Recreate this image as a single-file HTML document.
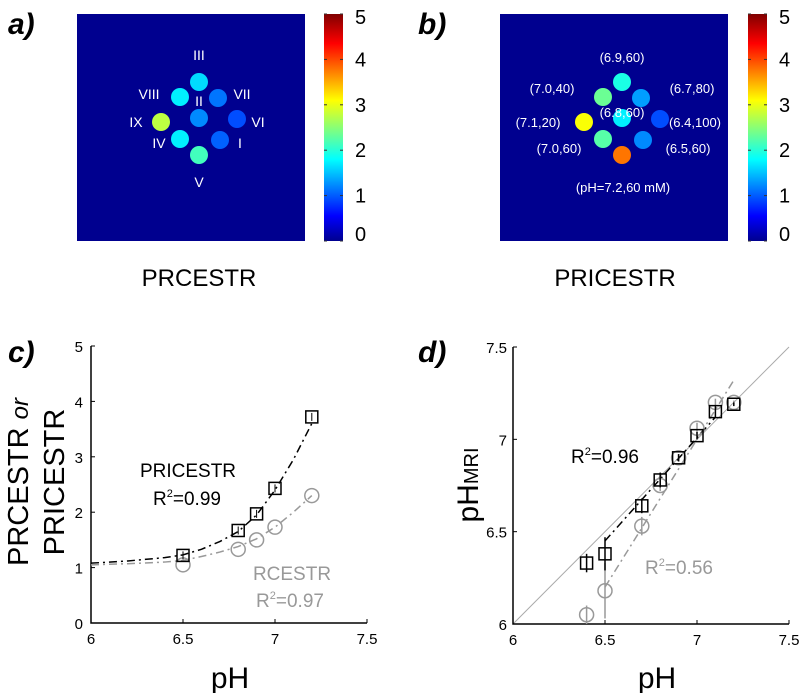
<!DOCTYPE html>
<html><head><meta charset="utf-8"><style>
html,body{margin:0;padding:0;background:#fff;width:800px;height:693px;overflow:hidden}
svg{display:block;font-family:"Liberation Sans","DejaVu Sans",sans-serif}
</style></head><body>
<svg id="fig" width="800" height="693" viewBox="0 0 800 693">
<defs>
<linearGradient id="jet" x1="0" y1="1" x2="0" y2="0">
<stop offset="0" stop-color="#00008f"/><stop offset="0.11" stop-color="#0000ff"/>
<stop offset="0.36" stop-color="#00ffff"/><stop offset="0.62" stop-color="#ffff00"/>
<stop offset="0.87" stop-color="#ff0000"/><stop offset="1" stop-color="#800000"/>
</linearGradient>
</defs>
<!-- panel a -->
<g>
<text x="8" y="34" font-size="30" font-weight="bold" font-style="italic">a)</text>
<rect x="77" y="14" width="228" height="227" fill="#00008f"/>
<rect x="324" y="14" width="19" height="227" fill="url(#jet)"/>
<g id="spotsA"></g>
<g id="cbA"></g>
<text x="199" y="286" font-size="24" text-anchor="middle">PRCESTR</text>
</g>
<!-- panel b -->
<g>
<text x="418" y="34" font-size="30" font-weight="bold" font-style="italic">b)</text>
<rect x="500" y="14" width="228" height="227" fill="#00008f"/>
<rect x="748" y="14" width="19" height="227" fill="url(#jet)"/>
<g id="spotsB"></g>
<g id="cbB"></g>
<text x="615" y="286" font-size="24" text-anchor="middle">PRICESTR</text>
</g>
<!-- panel c -->
<g id="panelC">
<text x="8" y="362" font-size="30" font-weight="bold" font-style="italic">c)</text>
<text transform="translate(28,482) rotate(-90)" font-size="29" text-anchor="middle">PRCESTR <tspan font-style="italic" font-size="24">or</tspan></text>
<text transform="translate(64,482) rotate(-90)" font-size="29" text-anchor="middle">PRICESTR</text>
<text x="230" y="688" font-size="30" text-anchor="middle">pH</text>
<text x="188" y="477" font-size="19" text-anchor="middle">PRICESTR</text>
<text x="187" y="505" font-size="19" text-anchor="middle">R<tspan font-size="11" dy="-8">2</tspan><tspan dy="8">=0.99</tspan></text>
<text x="292" y="580" font-size="19" fill="#999" text-anchor="middle">RCESTR</text>
<text x="290" y="607" font-size="19" fill="#999" text-anchor="middle">R<tspan font-size="11" dy="-8">2</tspan><tspan dy="8">=0.97</tspan></text>
</g>
<!-- panel d -->
<g id="panelD">
<text x="418" y="362" font-size="30" font-weight="bold" font-style="italic">d)</text>
<text transform="translate(478,485) rotate(-90)" font-size="30" text-anchor="middle">pH<tspan font-size="20">MRI</tspan></text>
<text x="657" y="688" font-size="30" text-anchor="middle">pH</text>
<text x="605" y="463" font-size="19" text-anchor="middle">R<tspan font-size="11" dy="-8">2</tspan><tspan dy="8">=0.96</tspan></text>
<text x="679" y="574" font-size="19" fill="#999" text-anchor="middle">R<tspan font-size="11" dy="-8">2</tspan><tspan dy="8">=0.56</tspan></text>
</g>
</svg>
<script>
// ---- panel c data ----
const phC = [6.5, 6.8, 6.9, 7.0, 7.2];
const pricestrC = [1.22, 1.67, 1.97, 2.43, 3.72];
const rcestrC = [1.05, 1.33, 1.5, 1.73, 2.3];
const fitPhC = [6.0, 6.2, 6.4, 6.5, 6.6, 6.7, 6.8, 6.9, 7.0, 7.1, 7.2];
const fitPriC = [1.08, 1.12, 1.18, 1.23, 1.33, 1.47, 1.65, 1.95, 2.4, 2.95, 3.6];
const fitRceC = [1.05, 1.07, 1.1, 1.13, 1.2, 1.28, 1.38, 1.52, 1.73, 2.0, 2.3];
const xTicksC = ["6", "6.5", "7", "7.5"];
const yTicksC = ["0", "1", "2", "3", "4", "5"];
// ---- panel d data ----
const phD = [6.4, 6.5, 6.7, 6.8, 6.9, 7.0, 7.1, 7.2];
const priMriD = [6.33, 6.38, 6.64, 6.78, 6.9, 7.02, 7.15, 7.19];
const priErrD = [0.05, 0.09, 0.04, 0.04, 0.02, 0.02, 0.03, 0.01];
const rceMriD = [6.05, 6.18, 6.53, 6.75, 6.9, 7.06, 7.2, 7.2];
const rceErrD = [0.05, 0.15, 0.05, 0.03, 0.02, 0.03, 0.02, 0.01];
const fitPriD = [[6.5, 6.45], [7.1, 7.12]];
const fitRceD = [[6.5, 6.2], [7.2, 7.32]];
const xTicksD = ["6", "6.5", "7", "7.5"];
const yTicksD = ["6", "6.5", "7", "7.5"];
// ---- maps ----
const spotsALabels = ["III","VIII","VII","II","IX","VI","IV","I","V"];
const spotsAValues = [1.7, 1.8, 1.2, 1.3, 2.8, 1.0, 1.8, 1.1, 2.2];
const spotsBLabels = ["(6.9,60)","(7.0,40)","(6.7,80)","(6.8,60)","(7.1,20)","(6.4,100)","(7.0,60)","(6.5,60)","(pH=7.2,60 mM)"];
const spotsBValues = [2.0, 2.4, 1.4, 1.8, 3.1, 1.0, 2.3, 1.3, 3.8];

const NS="http://www.w3.org/2000/svg";
function mk(tag, attrs, parent){const e=document.createElementNS(NS,tag);for(const k in attrs)e.setAttribute(k,attrs[k]);parent.appendChild(e);return e;}
function jet(v){const t=v/5;const r=Math.max(0,Math.min(1,1.5-Math.abs(4*t-3)));const g=Math.max(0,Math.min(1,1.5-Math.abs(4*t-2)));const b=Math.max(0,Math.min(1,1.5-Math.abs(4*t-1)));return `rgb(${Math.round(r*255)},${Math.round(g*255)},${Math.round(b*255)})`;}

// spot layout (positions relative to map centre)
const offs=[[0,-40],[-19,-25],[19,-24],[0,-4],[-38,0],[38,-3],[-19,17],[21,18],[0,33]];
const labA=[[0,-67],[-50,-28],[43,-28],[0,-21],[-63,0],[59,0],[-40,21],[41,21],[0,60]];
const labB=[[0,-65],[-70,-34],[70,-34],[0,-10],[-84,0],[73,0],[-63,26],[66,26],[1,65]];
function drawSpots(gid,cx,cy,labels,vals,labOff,fs){
  const g=document.getElementById(gid);
  vals.forEach((v,i)=>{
    const c=mk('circle',{cx:cx+offs[i][0],cy:cy+offs[i][1],r:9,fill:jet(v)},g);
    
    
    const t=mk('text',{x:cx+labOff[i][0],y:cy+labOff[i][1]+5,'font-size':fs,fill:'#fff','text-anchor':'middle'},g);
    t.textContent=labels[i];
    
    
  });
}
drawSpots('spotsA',199,122,spotsALabels,spotsAValues,labA,14);
drawSpots('spotsB',622,122,spotsBLabels,spotsBValues,labB,13);
function drawCb(gid,x){
  const g=document.getElementById(gid);
  for(let i=0;i<=5;i++){
    const y=241-i*227/5;
    mk('line',{x1:x,y1:y,x2:x+3,y2:y,stroke:'#333'},g);
    mk('line',{x1:x+19,y1:y,x2:x+16,y2:y,stroke:'#333'},g);
    const t=mk('text',{x:x+31,y:y+(i==5?10:i==0?0:7),'font-size':20},g);
    t.textContent=String(i);
    
    
  }
}
drawCb('cbA',324);drawCb('cbB',748);

// panel c axes
const cX=v=>91+(v-6)/1.5*276, cY=v=>623-v/5*277;
const gC=document.getElementById('panelC');
mk('path',{d:`M91 346 V623 H367`,fill:'none',stroke:'#000','stroke-width':1.5},gC);
xTicksC.forEach(s=>{const x=cX(+s);mk('line',{x1:x,y1:623,x2:x,y2:619,stroke:'#000'},gC);
  const t=mk('text',{x:x,y:644,'font-size':15,'text-anchor':'middle'},gC);t.textContent=s;
  });
yTicksC.forEach(s=>{const y=cY(+s);mk('line',{x1:91,y1:y,x2:95,y2:y,stroke:'#000'},gC);
  const t=mk('text',{x:83,y:y+6,'font-size':15,'text-anchor':'end'},gC);t.textContent=s;
  });
function poly(g,xs,ys,fx,fy,stroke,dash,name){
  const p=mk('polyline',{points:xs.map((x,i)=>fx(x)+','+fy(ys[i])).join(' '),fill:'none',stroke:stroke,'stroke-width':1.5,'stroke-dasharray':dash},g);
  
}
poly(gC,fitPhC,fitRceC,cX,cY,'#999','8 4 2 4','rcestr-fit');
poly(gC,fitPhC,fitPriC,cX,cY,'#000','8 4 2 4','pricestr-fit');
phC.forEach((p,i)=>{
  const c=mk('circle',{cx:cX(p),cy:cY(rcestrC[i]),r:7,fill:'none',stroke:'#999','stroke-width':1.5},gC);
  
  const r=mk('rect',{x:cX(p)-6,y:cY(pricestrC[i])-6,width:12,height:12,fill:'none',stroke:'#000','stroke-width':1.5},gC);
  
  mk('line',{x1:cX(p),y1:cY(pricestrC[i])-4,x2:cX(p),y2:cY(pricestrC[i])+4,stroke:'#000'},gC);
});

// panel d
const dX=v=>513+(v-6)/1.5*276, dY=v=>624-(v-6)/1.5*277;
const gD=document.getElementById('panelD');
mk('line',{x1:dX(6),y1:dY(6),x2:dX(7.5),y2:dY(7.5),stroke:'#aaa','stroke-width':1},gD);
mk('path',{d:`M513 347 V624 H789`,fill:'none',stroke:'#000','stroke-width':1.5},gD);
xTicksD.forEach(s=>{const x=dX(+s);mk('line',{x1:x,y1:624,x2:x,y2:620,stroke:'#000'},gD);
  const t=mk('text',{x:x,y:645,'font-size':15,'text-anchor':'middle'},gD);t.textContent=s;
  });
yTicksD.forEach(s=>{const y=dY(+s);mk('line',{x1:513,y1:y,x2:517,y2:y,stroke:'#000'},gD);
  const t=mk('text',{x:507,y:y+6,'font-size':15,'text-anchor':'end'},gD);t.textContent=s;
  });
poly(gD,fitRceD.map(a=>a[0]),fitRceD.map(a=>a[1]),dX,dY,'#999','8 4 2 4','rcestr-fit-d');
poly(gD,fitPriD.map(a=>a[0]),fitPriD.map(a=>a[1]),dX,dY,'#000','8 4 2 4','pricestr-fit-d');
phD.forEach((p,i)=>{
  const x=dX(p);
  mk('line',{x1:x,y1:dY(rceMriD[i]-rceErrD[i]),x2:x,y2:dY(rceMriD[i]+rceErrD[i]),stroke:'#999','stroke-width':1.5},gD);
  const c=mk('circle',{cx:x,cy:dY(rceMriD[i]),r:7,fill:'none',stroke:'#999','stroke-width':1.5},gD);
  
  mk('line',{x1:x,y1:dY(priMriD[i]-priErrD[i]),x2:x,y2:dY(priMriD[i]+priErrD[i]),stroke:'#000','stroke-width':1.5},gD);
  const r=mk('rect',{x:x-6,y:dY(priMriD[i])-6,width:12,height:12,fill:'none',stroke:'#000','stroke-width':1.5},gD);
  
});
</script>
</body></html>
